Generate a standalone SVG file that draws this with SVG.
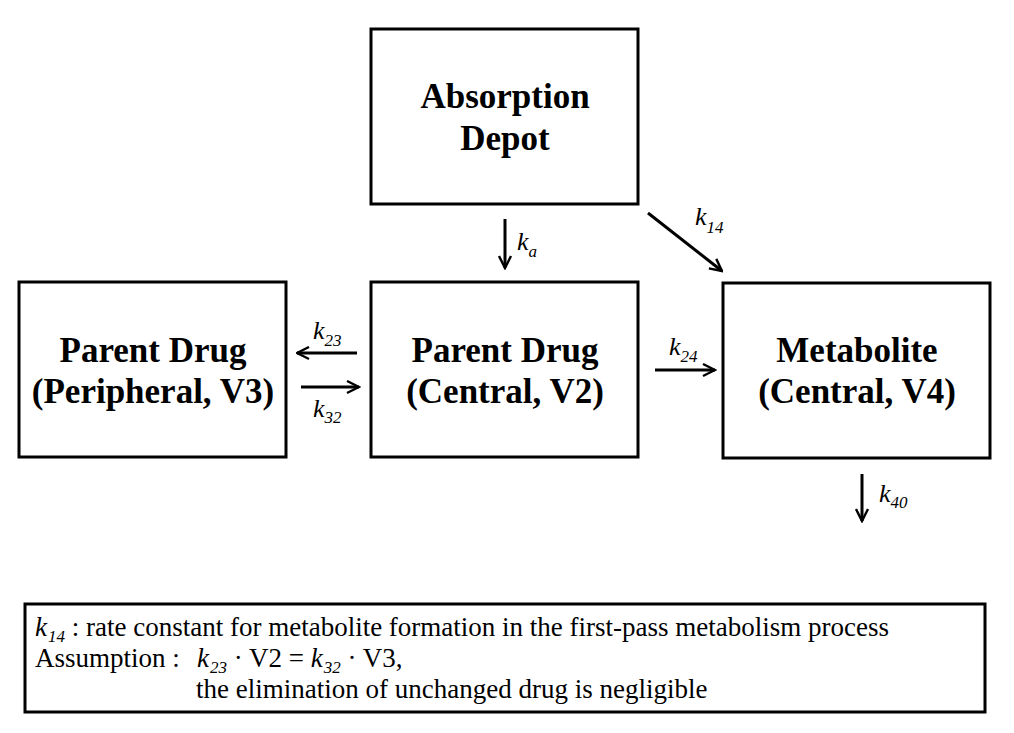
<svg xmlns="http://www.w3.org/2000/svg" width="1014" height="733" viewBox="0 0 1014 733">
<style>
.box{fill:#fff;stroke:#000;stroke-width:3}
.t{font-family:"Liberation Serif","Times New Roman",serif;font-weight:bold;font-size:35px;text-anchor:middle;fill:#000}
.k{font-family:"Liberation Serif","Times New Roman",serif;font-style:italic;font-size:26px;fill:#000}
.n{font-family:"Liberation Serif","Times New Roman",serif;font-size:27px;fill:#000}
.s{font-size:17px}
.c{stroke:#000;stroke-width:3;fill:none;marker-end:url(#ah)}
</style>
<defs>
<marker id="ah" viewBox="0 0 10 10" refX="9" refY="5" markerWidth="5" markerHeight="5" orient="auto" markerUnits="strokeWidth">
<path d="M1,1 L9,5 L1,9" fill="none" stroke="#000" stroke-width="1.6"/>
</marker>
</defs>
<rect width="1014" height="733" fill="#fff"/>
<g id="absorption"><rect class="box" x="371" y="29" width="267" height="175"/><text class="t" x="505" y="108">Absorption</text><text class="t" x="505" y="150">Depot</text></g>
<g id="central"><rect class="box" x="371" y="282" width="267" height="175"/><text class="t" x="505" y="362">Parent Drug</text><text class="t" x="505" y="403">(Central, V2)</text></g>
<g id="peripheral"><rect class="box" x="19" y="282" width="267" height="175"/><text class="t" x="153" y="362">Parent Drug</text><text class="t" x="153" y="403">(Peripheral, V3)</text></g>
<g id="metabolite"><rect class="box" x="723" y="283" width="267" height="175"/><text class="t" x="857" y="362">Metabolite</text><text class="t" x="857" y="403">(Central, V4)</text></g>
<g id="connectors">
<line class="c" x1="505" y1="219" x2="505" y2="268"/>
<line class="c" x1="357" y1="353" x2="297" y2="353"/>
<line class="c" x1="301" y1="387" x2="359" y2="387"/>
<line class="c" x1="655" y1="370" x2="715" y2="370"/>
<line class="c" x1="648" y1="213" x2="722" y2="271"/>
<line class="c" x1="862" y1="474" x2="862" y2="521"/>
</g>
<g id="labels">
<text class="k" x="517" y="250">k<tspan class="s" dy="7">a</tspan></text>
<text class="k" x="313" y="339">k<tspan class="s" dy="7">23</tspan></text>
<text class="k" x="313" y="417">k<tspan class="s" dy="6">32</tspan></text>
<text class="k" x="669" y="355">k<tspan class="s" dy="7">24</tspan></text>
<text class="k" x="695" y="225">k<tspan class="s" dy="8">14</tspan></text>
<text class="k" x="879" y="502">k<tspan class="s" dy="6">40</tspan></text>
</g>
<g id="note">
<rect class="box" x="25" y="604" width="960" height="108"/>
<text class="n" x="35" y="636"><tspan font-style="italic">k</tspan><tspan font-style="italic" font-size="17" dx="1" dy="6">14</tspan><tspan dy="-6"> : rate constant for metabolite formation in the first-pass metabolism process</tspan></text>
<text class="n" x="35" y="667">Assumption :</text>
<text class="n" x="197" y="667"><tspan font-style="italic">k</tspan><tspan font-style="italic" font-size="17" dx="1" dy="6">23</tspan><tspan dy="-6"> · V2 = </tspan><tspan font-style="italic">k</tspan><tspan font-style="italic" font-size="17" dx="1" dy="6">32</tspan><tspan dy="-6"> · V3,</tspan></text>
<text class="n" x="196" y="698">the elimination of unchanged drug is negligible</text>
</g>
</svg>
